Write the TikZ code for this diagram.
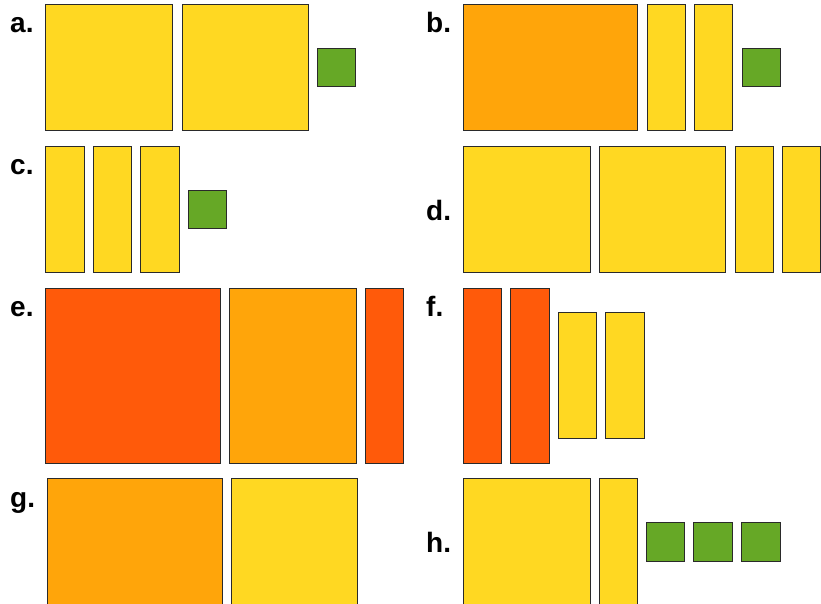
\documentclass[tikz,border=0pt]{standalone}
\usepackage{fontspec}
\setmainfont{Liberation Sans}
\definecolor{cyel}{HTML}{FFD822}
\definecolor{corg}{HTML}{FFA50A}
\definecolor{cred}{HTML}{FF5A0A}
\definecolor{cgrn}{HTML}{66A826}
\definecolor{cline}{HTML}{2A2A2A}
\begin{document}
\begin{tikzpicture}[x=1pt,y=-1pt,
  yel/.style={draw=cline,line width=0.9pt,fill=cyel},
  org/.style={draw=cline,line width=0.9pt,fill=corg},
  red/.style={draw=cline,line width=0.9pt,fill=cred},
  grn/.style={draw=cline,line width=0.9pt,fill=cgrn},
  lab/.style={anchor=base west,inner sep=0pt,font=\fontsize{28}{28}\selectfont\bfseries}]
\useasboundingbox[fill=white] (0,0) rectangle (821,604);
% a
\node[lab] (la) at (10,33) {a.};
\draw[yel] (45,4) rectangle (172,130);
\draw[yel] (182,4) rectangle (308,130);
\draw[grn] (317,48) rectangle (355,86);
% b
\node[lab] (lb) at (426,33) {b.};
\draw[org] (463,4) rectangle (637,130);
\draw[yel] (647,4) rectangle (685,130);
\draw[yel] (694,4) rectangle (732,130);
\draw[grn] (742,48) rectangle (780,86);
% c
\node[lab] (lc) at (10,175) {c.};
\draw[yel] (45,146) rectangle (84,272);
\draw[yel] (93,146) rectangle (131,272);
\draw[yel] (140,146) rectangle (179,272);
\draw[grn] (188,190) rectangle (226,228);
% d
\node[lab] (ld) at (426,220) {d.};
\draw[yel] (463,146) rectangle (590,272);
\draw[yel] (599,146) rectangle (725,272);
\draw[yel] (735,146) rectangle (773,272);
\draw[yel] (782,146) rectangle (820,272);
% e
\node[lab] (le) at (10,316) {e.};
\draw[red] (45,288) rectangle (220,463);
\draw[org] (229,288) rectangle (356,463);
\draw[red] (365,288) rectangle (403,463);
% f
\node[lab] (lf) at (426,316) {f.};
\draw[red] (463,288) rectangle (501,463);
\draw[red] (510,288) rectangle (549,463);
\draw[yel] (558,312) rectangle (596,438);
\draw[yel] (605,312) rectangle (644,438);
% g
\node[lab] (lg) at (10,507) {g.};
\draw[org] (47,478) rectangle (222,612);
\draw[yel] (231,478) rectangle (357,612);
% h
\node[lab] (lh) at (426,552) {h.};
\draw[yel] (463,478) rectangle (590,612);
\draw[yel] (599,478) rectangle (637,612);
\draw[grn] (646,522) rectangle (684,561);
\draw[grn] (693,522) rectangle (732,561);
\draw[grn] (741,522) rectangle (780,561);
\end{tikzpicture}
\end{document}
